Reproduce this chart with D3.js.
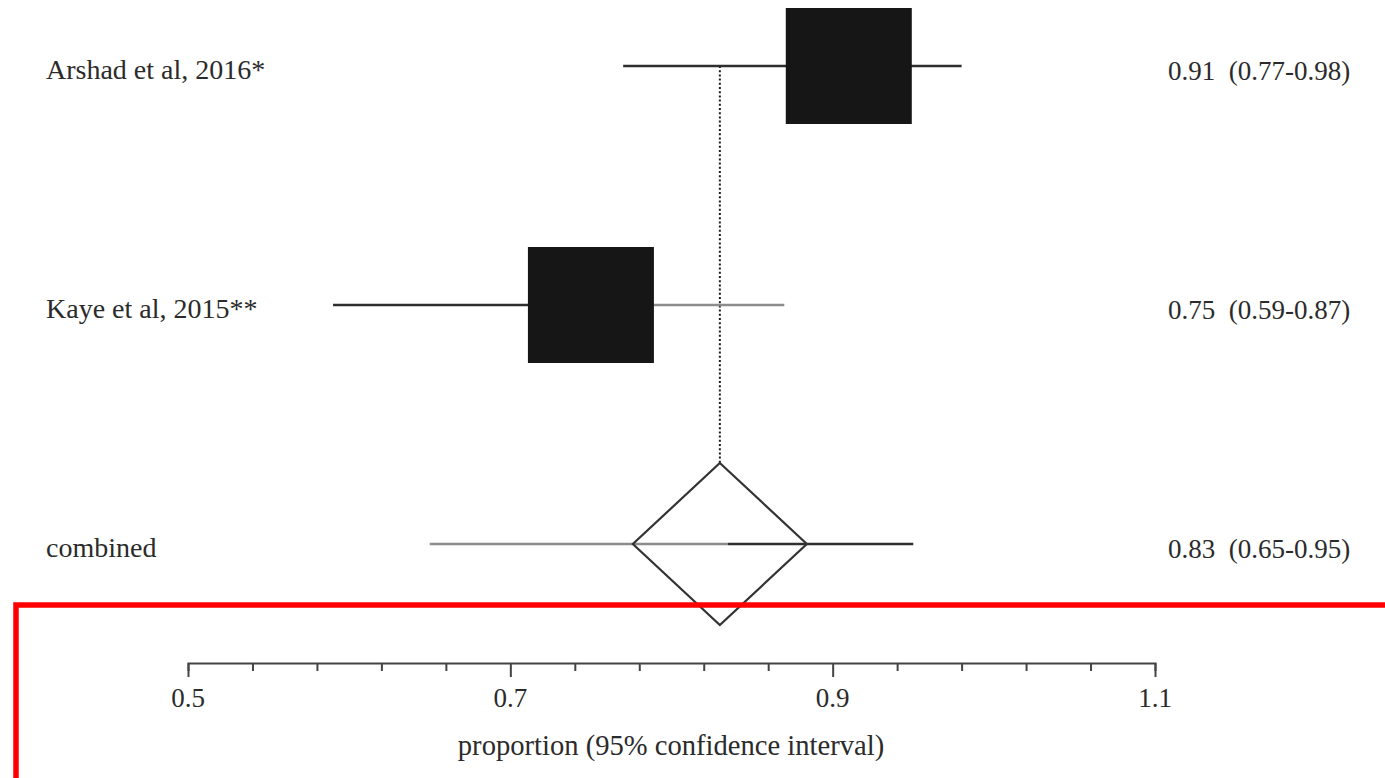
<!DOCTYPE html>
<html>
<head>
<meta charset="utf-8">
<script src="https://cdn.jsdelivr.net/npm/d3@7"></script>
<style>
  html, body { margin: 0; padding: 0; background: #fff; }
  svg { display: block; }
  text { font-family: "Liberation Serif", "DejaVu Serif", serif; fill: #2b2b2b; }
</style>
</head>
<body>
<svg id="chart" width="1385" height="778"></svg>
<script>
// Study rows of the forest plot
const studies = ["Arshad et al, 2016*", "Kaye et al, 2015**"];
const estimates = [0.91, 0.75];
const lowerCI = [0.77, 0.59];
const upperCI = [0.98, 0.87];
const weights = [0.5, 0.5];

// Pooled result
const pooledLabel = "combined";
const pooledEstimate = 0.83;
const pooledLower = 0.65;
const pooledUpper = 0.95;

// Axis ticks
const axisTicks = [0.5, 0.54, 0.58, 0.62, 0.66, 0.7, 0.74, 0.78, 0.82, 0.86, 0.9, 0.94, 0.98, 1.02, 1.06, 1.1];
const labelledTicks = [0.5, 0.7, 0.9, 1.1];
const axisTitle = "proportion (95% confidence interval)";

const rows = studies.concat([pooledLabel]);
const fmt = d3.format(".2f");

const svg = d3.select("#chart");
const x = d3.scaleLinear().domain([0.5, 1.1]).range([188, 1155]);
const y = d3.scalePoint().domain(rows).range([66, 544]);
const side = d3.scaleSqrt().domain([0, 0.5]).range([0, 1]);

const ink = "#2e2e2e";
const faint = "#8c8c8c";

// reference line at the pooled estimate, from the first row down to the diamond
const diamondHalfW = 87, diamondHalfH = 81;
svg.append("line")
  .attr("x1", x(pooledEstimate)).attr("x2", x(pooledEstimate))
  .attr("y1", y(rows[0])).attr("y2", y(pooledLabel) - diamondHalfH)
  .attr("stroke", "#1a1a1a").attr("stroke-width", 2)
  .attr("stroke-dasharray", "2,2.2");

// confidence interval whiskers for each study
const studyData = studies.map((s, i) => ({
  name: s, est: estimates[i], lo: lowerCI[i], hi: upperCI[i], w: weights[i]
}));
// right-hand whisker of the second study prints lighter
const upperTone = [ink, faint];

studyData.forEach((d, i) => {
  svg.append("line")
    .attr("x1", x(d.lo)).attr("x2", x(d.est))
    .attr("y1", y(d.name)).attr("y2", y(d.name))
    .attr("stroke", ink).attr("stroke-width", 2.4);
  svg.append("line")
    .attr("x1", x(d.est)).attr("x2", x(d.hi))
    .attr("y1", y(d.name)).attr("y2", y(d.name))
    .attr("stroke", upperTone[i]).attr("stroke-width", 2.4);
});

// weighted squares
svg.selectAll("rect.box").data(studyData).join("rect")
  .attr("class", "box")
  .attr("x", d => x(d.est) - 126 * side(d.w) / 2)
  .attr("y", d => y(d.name) - 116 * side(d.w) / 2)
  .attr("width", d => 126 * side(d.w))
  .attr("height", d => 116 * side(d.w))
  .attr("fill", "#161616");

// pooled interval and diamond
const py = y(pooledLabel);
svg.append("line")
  .attr("x1", x(pooledLower)).attr("x2", x(pooledEstimate) + 8)
  .attr("y1", py).attr("y2", py)
  .attr("stroke", faint).attr("stroke-width", 2.4);
svg.append("line")
  .attr("x1", x(pooledEstimate) + 8).attr("x2", x(pooledUpper))
  .attr("y1", py).attr("y2", py)
  .attr("stroke", ink).attr("stroke-width", 2.4);
const cx = x(pooledEstimate);
svg.append("path")
  .attr("d", d3.line()([
    [cx, py - diamondHalfH], [cx + diamondHalfW, py],
    [cx, py + diamondHalfH], [cx - diamondHalfW, py]
  ]) + "Z")
  .attr("fill", "none").attr("stroke", "#333").attr("stroke-width", 2.2);

// row labels
svg.selectAll("text.row").data(rows).join("text")
  .attr("class", "row")
  .attr("x", 46)
  .attr("y", d => y(d) + 13)
  .attr("font-size", 28)
  .text(d => d);

// estimate (CI) labels on the right
const rightLabels = studyData.map(d => ({ name: d.name, txt: `${fmt(d.est)}  (${fmt(d.lo)}-${fmt(d.hi)})` }))
  .concat([{ name: pooledLabel, txt: `${fmt(pooledEstimate)}  (${fmt(pooledLower)}-${fmt(pooledUpper)})` }]);
svg.selectAll("text.est").data(rightLabels).join("text")
  .attr("class", "est")
  .attr("x", 1168)
  .attr("y", d => y(d.name) + 14)
  .attr("font-size", 27)
  .attr("xml:space", "preserve")
  .style("white-space", "pre")
  .text(d => d.txt);

// x axis
const axisY = 663;
const axisG = svg.append("g").attr("transform", `translate(0,${axisY})`)
  .call(d3.axisBottom(x).tickValues(axisTicks).tickSizeOuter(0).tickSize(8).tickFormat(""));
axisG.select(".domain").attr("stroke", "#444").attr("stroke-width", 2);
axisG.selectAll(".tick line").attr("stroke", "#444").attr("stroke-width", 2)
  .attr("y2", d => labelledTicks.includes(d) ? 14 : 8);

svg.selectAll("text.tick").data(labelledTicks).join("text")
  .attr("class", "tick")
  .attr("x", d => x(d))
  .attr("y", axisY + 44)
  .attr("text-anchor", "middle")
  .attr("font-size", 27)
  .text(d => d3.format(".1f")(d));

svg.append("text")
  .attr("x", 671)
  .attr("y", 755)
  .attr("text-anchor", "middle")
  .attr("font-size", 28.6)
  .text(axisTitle);

// highlight frame around the axis area
svg.append("rect")
  .attr("x", 16).attr("y", 605)
  .attr("width", 1420).attr("height", 300)
  .attr("fill", "none").attr("stroke", "#ff0000").attr("stroke-width", 5.5);
</script>
</body>
</html>
